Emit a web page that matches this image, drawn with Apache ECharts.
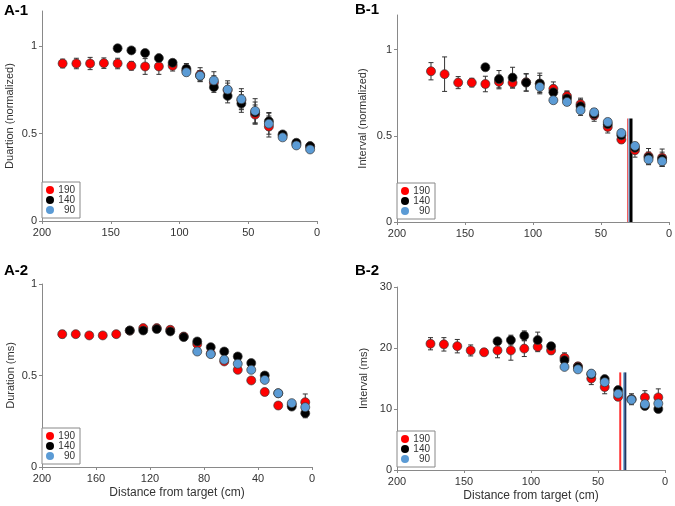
<!DOCTYPE html>
<html>
<head>
<meta charset="utf-8">
<script src="https://cdn.jsdelivr.net/npm/echarts@6/dist/echarts.min.js"></script>
<style>
  html, body { margin: 0; padding: 0; background: #fff; }
  #chart { width: 675px; height: 506px; }
</style>
</head>
<body>
<div id="chart"></div>
<script>
  // distance from target (cm), shared by all panels
  var dist = [185, 175, 165, 155, 145, 135, 125, 115, 105, 95, 85, 75, 65, 55, 45, 35, 25, 15, 5];
  var groups = ['190', '140', '90'];
  var colors = ['#FF0000', '#000000', '#5B9BD5'];

  // A-1 duration (normalized)
  var a1_190 = [0.90, 0.90, 0.90, 0.902, 0.90, 0.887, 0.883, 0.883, 0.887, 0.86, 0.836, 0.79, 0.748, 0.69, 0.608, 0.54, 0.49, 0.44, 0.426];
  var a1_190e = [0.025, 0.03, 0.035, 0.03, 0.03, 0.025, 0.045, 0.045, 0.03, 0.03, 0.04, 0.04, 0.04, 0.05, 0.055, 0.06, 0.01, 0.01, 0.01];
  var a1_140 = [null, null, null, null, 0.987, 0.975, 0.96, 0.931, 0.904, 0.87, 0.83, 0.765, 0.715, 0.671, 0.62, 0.57, 0.495, 0.447, 0.428];
  var a1_140e = [null, null, null, null, 0, 0, 0, 0, 0.01, 0.03, 0.03, 0.03, 0.04, 0.05, 0.06, 0.05, 0.01, 0.01, 0.01];
  var a1_90 = [null, null, null, null, null, null, null, null, null, 0.85, 0.83, 0.803, 0.751, 0.696, 0.629, 0.556, 0.478, 0.432, 0.409];
  var a1_90e = [null, null, null, null, null, null, null, null, null, 0.01, 0.03, 0.05, 0.05, 0.06, 0.07, 0.06, 0.01, 0.01, 0.01];

  // B-1 interval (normalized)
  var b1_190 = [null, 0.874, 0.857, 0.808, 0.808, 0.80, 0.812, 0.807, 0.81, 0.80, 0.772, 0.73, 0.683, 0.619, 0.551, 0.478, 0.416, 0.381, 0.373];
  var b1_190e = [null, 0.05, 0.1, 0.035, 0.025, 0.045, 0.04, 0.03, 0.05, 0.05, 0.04, 0.03, 0.035, 0.035, 0.035, 0.02, 0.04, 0.045, 0.05];
  var b1_140 = [null, null, null, null, null, 0.897, 0.828, 0.837, 0.808, 0.803, 0.752, 0.716, 0.671, 0.625, 0.567, 0.503, 0.43, 0.375, 0.365];
  var b1_140e = [null, null, null, null, null, 0.01, 0.05, 0.06, 0.05, 0.06, 0.04, 0.04, 0.04, 0.03, 0.03, 0.03, 0.03, 0.03, 0.04];
  var b1_90 = [null, null, null, null, null, null, null, null, null, 0.783, 0.706, 0.696, 0.648, 0.636, 0.58, 0.516, 0.441, 0.362, 0.352];
  var b1_90e = [null, null, null, null, null, null, null, null, null, 0.03, 0.01, 0.02, 0.03, 0.02, 0.02, 0.02, 0.02, 0.03, 0.03];
  var b1Lines = [30.3, 29.3, 27.9];
  var b1LineTop = 0.6;

  // A-2 duration (ms)
  var a2_190 = [0.726, 0.726, 0.719, 0.719, 0.726, 0.745, 0.759, 0.759, 0.75, 0.713, 0.672, 0.62, 0.577, 0.531, 0.473, 0.41, 0.336, 0.34, 0.354];
  var a2_190e = [0.02, 0.01, 0.01, 0.01, 0.01, 0.01, 0.01, 0.01, 0.01, 0.01, 0.01, 0.01, 0.01, 0.01, 0.01, 0.01, 0.01, 0.01, 0.045];
  var a2_140 = [null, null, null, null, null, 0.746, 0.746, 0.754, 0.741, 0.71, 0.686, 0.655, 0.631, 0.604, 0.568, 0.5, 0.403, 0.33, 0.294];
  var a2_140e = [null, null, null, null, null, 0.01, 0.01, 0.01, 0.01, 0.01, 0.01, 0.01, 0.01, 0.01, 0.01, 0.01, 0.01, 0.01, 0.025];
  var a2_90 = [null, null, null, null, null, null, null, null, null, null, 0.631, 0.617, 0.586, 0.564, 0.531, 0.476, 0.403, 0.349, 0.327];
  var a2_90e = [null, null, null, null, null, null, null, null, null, null, 0.01, 0.01, 0.01, 0.01, 0.01, 0.01, 0.01, 0.01, 0.01];

  // B-2 interval (ms)
  var b2_190 = [null, 20.7, 20.6, 20.3, 19.6, 19.3, 19.6, 19.6, 19.9, 20.2, 19.6, 18.4, 17.0, 15.0, 13.6, 12.0, 11.6, 11.9, 11.9];
  var b2_190e = [null, 1.0, 1.1, 1.1, 0.9, 0.5, 1.2, 1.6, 1.3, 0.8, 0.6, 0.8, 0.6, 1.0, 1.1, 0.6, 0.9, 1.1, 1.4];
  var b2_140 = [null, null, null, null, null, null, 21.1, 21.3, 22.0, 21.3, 20.3, 18.0, 16.9, 15.7, 14.9, 13.1, 11.6, 10.5, 10.0];
  var b2_140e = [null, null, null, null, null, null, 0.5, 0.8, 0.8, 1.3, 0.6, 0.9, 0.5, 0.5, 0.5, 0.5, 0.4, 0.5, 0.4];
  var b2_90 = [null, null, null, null, null, null, null, null, null, null, null, 16.9, 16.5, 15.8, 14.4, 12.5, 11.5, 10.8, 10.9];
  var b2_90e = [null, null, null, null, null, null, null, null, null, null, null, 0.4, 0.4, 0.4, 0.4, 0.4, 0.4, 0.4, 0.4];
  var b2Lines = [33.4, 30.7, 29.6];
  var b2LineTop = 16;

  // axis ticks
  var xTicks50 = [0, 50, 100, 150, 200];
  var xTicks40 = [0, 40, 80, 120, 160, 200];
  var yTicksNorm = [0, 0.5, 1];
  var yTicksMs = [0, 10, 20, 30];

  var panels = [
    { title: 'A-1', yName: 'Duartion (normalized)', xName: '', ymax: 1.2, yTicks: yTicksNorm, xTicks: xTicks50,
      vals: [a1_190, a1_140, a1_90], errs: [a1_190e, a1_140e, a1_90e],
      grid: { left: 42, top: 11, width: 275, height: 210 }, titlePos: { left: 4, top: 3 }, yGap: 27 },
    { title: 'B-1', yName: 'Interval (normalized)', xName: '', ymax: 1.2, yTicks: yTicksNorm, xTicks: xTicks50,
      vals: [b1_190, b1_140, b1_90], errs: [b1_190e, b1_140e, b1_90e], lines: b1Lines, lineTop: b1LineTop,
      lineW: [1.5, 1.5, 3], lineC: ['#F06060', '#7FB2E5', '#000000'],
      grid: { left: 397, top: 15, width: 275, height: 207 }, titlePos: { left: 355, top: 2 }, yGap: 29 },
    { title: 'A-2', yName: 'Duration (ms)', xName: 'Distance from target (cm)', ymax: 1, yTicks: yTicksNorm, xTicks: xTicks40,
      vals: [a2_190, a2_140, a2_90], errs: [a2_190e, a2_140e, a2_90e],
      grid: { left: 42, top: 284, width: 270, height: 183 }, titlePos: { left: 4, top: 263 }, yGap: 26 },
    { title: 'B-2', yName: 'Interval (ms)', xName: 'Distance from target (cm)', ymax: 30, yTicks: yTicksMs, xTicks: xTicks50,
      vals: [b2_190, b2_140, b2_90], errs: [b2_190e, b2_140e, b2_90e], lines: b2Lines, lineTop: b2LineTop,
      lineW: [2, 1.5, 2], lineC: ['#FF3030', '#6FA8DC', '#1F3864'],
      grid: { left: 397, top: 287, width: 268, height: 183 }, titlePos: { left: 355, top: 263 }, yGap: 28 }
  ];

  var font = 'Liberation Sans, Arial, sans-serif';
  var axisColor = '#898989';
  var textColor = '#333';

  var myChart = echarts.init(document.getElementById('chart'), null, { renderer: 'canvas' });

  var grids = [], xAxes = [], yAxes = [], titles = [], legends = [], series = [];

  panels.forEach(function (p, pi) {
    grids.push(p.grid);
    titles.push({
      text: p.title, left: p.titlePos.left, top: p.titlePos.top, padding: 0,
      textStyle: { fontFamily: font, fontSize: 15, fontWeight: 'bold', color: '#000' }
    });
    xAxes.push({
      gridIndex: pi, type: 'value', min: 0, max: 200, inverse: true, position: 'bottom',
      name: p.xName, nameLocation: 'middle', nameGap: 20,
      nameTextStyle: { fontFamily: font, fontSize: 12, color: textColor },
      axisLine: { show: true, onZero: false, lineStyle: { color: axisColor, width: 1 } },
      axisTick: { show: true, length: 3, customValues: p.xTicks, lineStyle: { color: axisColor } },
      axisLabel: { customValues: p.xTicks, margin: 6, fontFamily: font, fontSize: 11, color: textColor },
      splitLine: { show: false }
    });
    yAxes.push({
      gridIndex: pi, type: 'value', min: 0, max: p.ymax, position: 'left',
      name: p.yName, nameLocation: 'middle', nameGap: p.yGap, nameRotate: 90,
      nameTextStyle: { fontFamily: font, fontSize: 11, color: textColor },
      axisLine: { show: true, onZero: false, lineStyle: { color: axisColor, width: 1 } },
      axisTick: { show: true, length: 3, customValues: p.yTicks, lineStyle: { color: axisColor } },
      axisLabel: { customValues: p.yTicks, margin: 5, fontFamily: font, fontSize: 11, color: textColor },
      splitLine: { show: false }
    });
    legends.push({
      data: groups, orient: 'vertical', left: p.grid.left, top: p.grid.top + p.grid.height - 39,
      padding: [3, 5, 3, 4], itemGap: 0, itemWidth: 8, itemHeight: 8, icon: 'circle',
      borderColor: '#888', borderWidth: 1, backgroundColor: '#fff', selectedMode: false,
      itemStyle: { borderWidth: 0 },
      formatter: '{a|{name}}',
      textStyle: {
        fontFamily: font, fontSize: 10, color: textColor,
        rich: { a: { width: 16, align: 'right', fontFamily: font, fontSize: 10, lineHeight: 11, color: textColor } }
      }
    });

    // threshold lines
    if (p.lines) {
      p.lines.forEach(function (x, li) {
        series.push({
          type: 'line', xAxisIndex: pi, yAxisIndex: pi, silent: true, z: 1,
          symbol: 'none', data: [[x, 0], [x, p.lineTop]],
          lineStyle: { color: p.lineC[li], width: p.lineW[li] }
        });
      });
    }

    groups.forEach(function (g, gi) {
      var pts = [];
      dist.forEach(function (d, i) {
        if (p.vals[gi][i] != null) pts.push([d, p.vals[gi][i], p.errs[gi][i] || 0]);
      });
      // error bars
      series.push({
        type: 'custom', xAxisIndex: pi, yAxisIndex: pi, silent: true, z: 2,
        data: pts,
        renderItem: function (params, api) {
          var x = api.value(0), y = api.value(1), e = api.value(2);
          if (!e) return null;
          var lo = api.coord([x, y - e]);
          var hi = api.coord([x, y + e]);
          var st = { stroke: '#333', lineWidth: 1 };
          return {
            type: 'group', children: [
              { type: 'line', shape: { x1: lo[0], y1: lo[1], x2: hi[0], y2: hi[1] }, style: st },
              { type: 'line', shape: { x1: lo[0] - 2.5, y1: lo[1], x2: lo[0] + 2.5, y2: lo[1] }, style: st },
              { type: 'line', shape: { x1: hi[0] - 2.5, y1: hi[1], x2: hi[0] + 2.5, y2: hi[1] }, style: st }
            ]
          };
        }
      });
      series.push({
        name: g, type: 'scatter', xAxisIndex: pi, yAxisIndex: pi, z: 3 + gi,
        symbol: 'circle', symbolSize: 9,
        data: pts.map(function (q) { return [q[0], q[1]]; }),
        itemStyle: { color: colors[gi], borderColor: '#3a3a3a', borderWidth: 0.7, opacity: 1 }
      });
    });
  });

  myChart.setOption({
    animation: false,
    title: titles,
    legend: legends,
    grid: grids,
    xAxis: xAxes,
    yAxis: yAxes,
    series: series
  });
</script>
</body>
</html>
